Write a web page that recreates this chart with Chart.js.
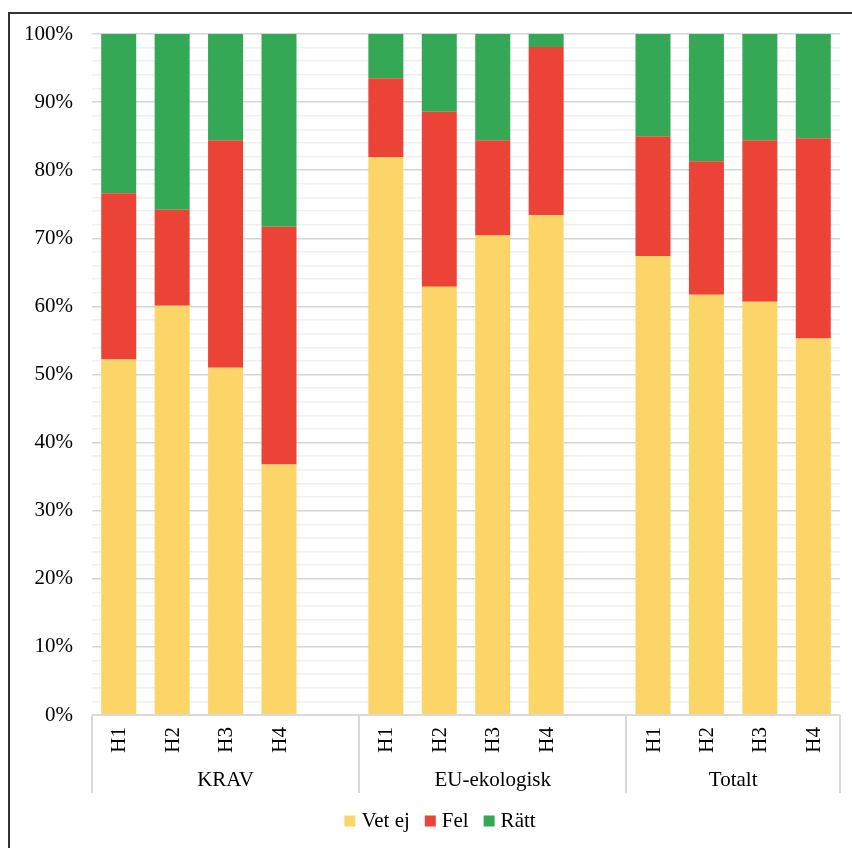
<!DOCTYPE html>
<html>
<head>
    <meta charset="utf-8">
    <title>Kunskap om märkning</title>
    <script src="https://cdn.jsdelivr.net/npm/chart.js"></script>
    <style>
        body { margin: 0; background: #fff; width: 852px; height: 848px; overflow: hidden; position: relative; }
        .frame { position: absolute; left: 8px; top: 12px; width: 900px; height: 900px; border-left: 2px solid #333; border-top: 2px solid #333; }
        #answerChart { position: absolute; left: 0; top: 0; }
    </style>
</head>
<body>
    <div class="frame"></div>
    <canvas id="answerChart" width="852" height="848"></canvas>

    <script>
        // one slot per bar, empty slots separate the groups
        const slotLabels = ['H1', 'H2', 'H3', 'H4', '', 'H1', 'H2', 'H3', 'H4', '', 'H1', 'H2', 'H3', 'H4'];
        const groups = ['KRAV', 'EU-ekologisk', 'Totalt'];
        const groupEdges = [-0.5, 4.5, 9.5, 13.5];

        // share of answers in percent
        const vetEj = [52.2, 60.1, 51.0, 36.8, null, 81.9, 62.9, 70.4, 73.4, null, 67.4, 61.7, 60.7, 55.3];
        const fel   = [24.4, 14.1, 33.4, 34.9, null, 11.6, 25.7, 14.0, 24.7, null, 17.6, 19.6, 23.7, 29.4];
        const ratt  = [23.4, 25.8, 15.6, 28.3, null, 6.5, 11.4, 15.6, 1.9, null, 15.0, 18.7, 15.6, 15.3];

        const SERIF = '"Liberation Serif", "Times New Roman", serif';
        const FONT_SIZE = 21;

        // hour labels, group names, separators under the axis and the legend
        const axisLabels = {
            id: 'axisLabels',
            afterDraw(chart) {
                const { ctx, chartArea, scales: { x } } = chart;
                const bottom = chartArea.bottom;
                ctx.save();

                ctx.strokeStyle = '#d9d9d9';
                ctx.lineWidth = 2;
                ctx.beginPath();
                ctx.moveTo(chartArea.left, bottom);
                ctx.lineTo(chartArea.right, bottom);
                groupEdges.forEach(v => {
                    const px = Math.round(x.getPixelForValue(v));
                    ctx.moveTo(px, bottom);
                    ctx.lineTo(px, bottom + 78);
                });
                ctx.stroke();

                ctx.fillStyle = '#000';
                ctx.font = FONT_SIZE + 'px ' + SERIF;
                slotLabels.forEach((lab, i) => {
                    if (!lab) return;
                    ctx.save();
                    ctx.translate(x.getPixelForValue(i), bottom + 12);
                    ctx.rotate(-Math.PI / 2);
                    ctx.textAlign = 'right';
                    ctx.textBaseline = 'middle';
                    ctx.fillText(lab, 0, 1);
                    ctx.restore();
                });

                ctx.textAlign = 'center';
                ctx.textBaseline = 'middle';
                groups.forEach((g, i) => {
                    const mid = (x.getPixelForValue(groupEdges[i]) + x.getPixelForValue(groupEdges[i + 1])) / 2;
                    ctx.fillText(g, mid, bottom + 65);
                });

                // legend row
                const items = chart.data.datasets.map(ds => ({ text: ds.label, color: ds.backgroundColor }));
                const box = 11, gapText = 6, gapItem = 15;
                let total = 0;
                items.forEach((it, i) => {
                    it.w = ctx.measureText(it.text).width;
                    total += box + gapText + it.w + (i ? gapItem : 0);
                });
                let lx = 440 - total / 2;
                const ly = 821;
                ctx.textAlign = 'left';
                items.forEach(it => {
                    ctx.fillStyle = it.color;
                    ctx.fillRect(lx, ly - box / 2, box, box);
                    ctx.fillStyle = '#000';
                    ctx.fillText(it.text, lx + box + gapText, ly);
                    lx += box + gapText + it.w + gapItem;
                });
                ctx.restore();
            }
        };

        const ctx = document.getElementById('answerChart').getContext('2d');
        new Chart(ctx, {
            type: 'bar',
            data: {
                labels: slotLabels,
                datasets: [
                    { label: 'Vet ej', data: vetEj, backgroundColor: '#fcd568' },
                    { label: 'Fel', data: fel, backgroundColor: '#eb4436' },
                    { label: 'Rätt', data: ratt, backgroundColor: '#35a855' }
                ]
            },
            options: {
                responsive: false,
                animation: false,
                layout: { padding: { top: 34, right: 12, left: 0, bottom: 53 } },
                datasets: { bar: { categoryPercentage: 1, barPercentage: 0.655 } },
                plugins: {
                    tooltip: { enabled: false },
                    legend: { display: false }
                },
                scales: {
                    x: {
                        stacked: true,
                        grid: { display: false },
                        border: { display: false },
                        ticks: { display: false },
                        afterFit(scale) { scale.height = 80; }
                    },
                    y: {
                        stacked: true,
                        min: 0,
                        max: 100,
                        afterFit(scale) { scale.width = 92; },
                        border: { display: false },
                        grid: {
                            drawTicks: false,
                            lineWidth: 1.5,
                            color: c => (c.tick && c.tick.value % 10 === 0) ? '#d6d6d6' : '#f0f0f0'
                        },
                        ticks: {
                            stepSize: 2,
                            autoSkip: false,
                            padding: 19,
                            color: '#000',
                            font: { family: SERIF, size: FONT_SIZE },
                            callback: v => v % 10 === 0 ? v + '%' : ''
                        }
                    }
                }
            },
            plugins: [axisLabels]
        });
    </script>
</body>
</html>
